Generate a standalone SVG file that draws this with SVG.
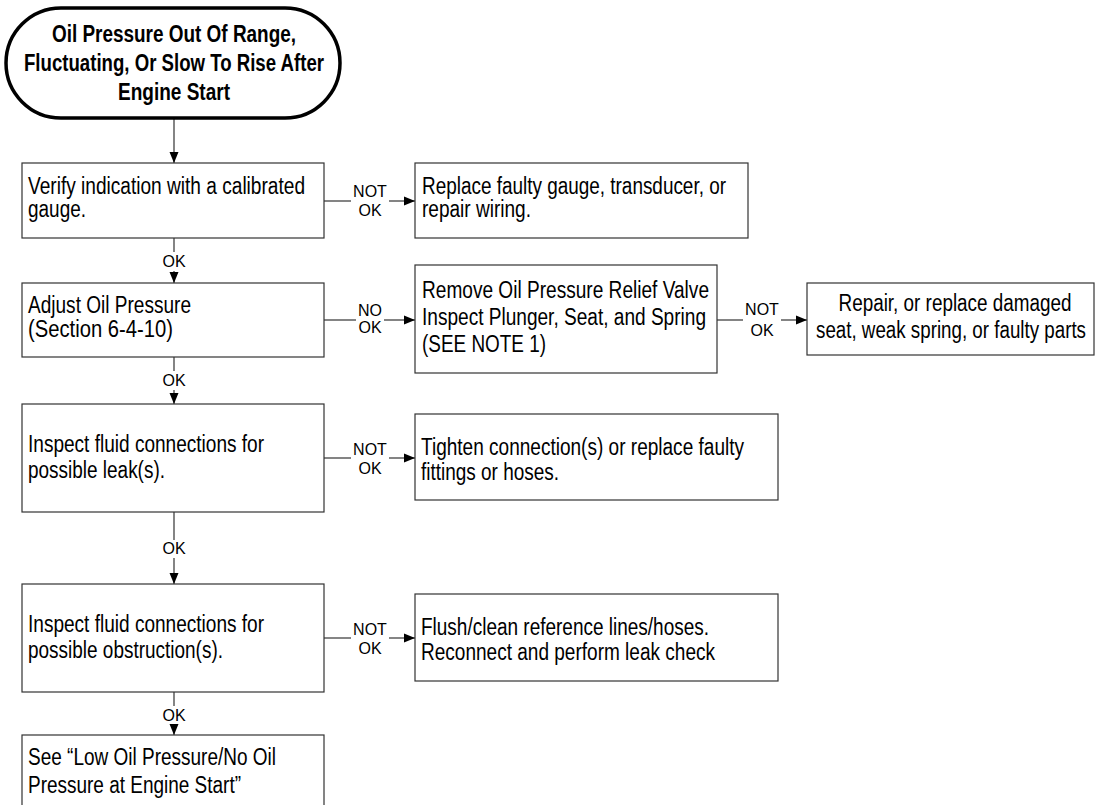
<svg xmlns="http://www.w3.org/2000/svg" width="1096" height="805" viewBox="0 0 1096 805">
<style>
.box{fill:#fff;stroke:#333;stroke-width:1.2}
.term{fill:#fff;stroke:#000;stroke-width:3.5}
.t{font-family:"Liberation Sans Narrow","Arial Narrow","Liberation Sans",Arial,sans-serif;font-size:23.5px;fill:#000}
.title{font-family:"Liberation Sans Narrow","Arial Narrow","Liberation Sans",Arial,sans-serif;font-size:23.5px;font-weight:bold;fill:#000;text-anchor:middle}
.lbl{font-family:"Liberation Sans",Arial,sans-serif;font-size:16px;fill:#000;text-anchor:middle}
.c{stroke:#333;stroke-width:1.2;fill:none}
</style>
<defs>
<marker id="ah" markerUnits="userSpaceOnUse" markerWidth="11" markerHeight="10" refX="11" refY="5" orient="auto">
<path d="M0,0.5 L11,5 L0,9.5 z" fill="#000"/>
</marker>
</defs>
<rect width="1096" height="805" fill="#fff"/>

<g id="connectors">
<line class="c" x1="174" y1="119" x2="174" y2="163" marker-end="url(#ah)"/>
<line class="c" x1="324" y1="201" x2="351" y2="201"/>
<line class="c" x1="389" y1="201" x2="415" y2="201" marker-end="url(#ah)"/>
<text class="lbl" x="370" y="197">NOT</text><text class="lbl" x="370" y="216">OK</text>
<line class="c" x1="174" y1="238" x2="174" y2="252"/>
<line class="c" x1="174" y1="271" x2="174" y2="283" marker-end="url(#ah)"/>
<text class="lbl" x="174" y="267">OK</text>
<line class="c" x1="324" y1="320" x2="356" y2="320"/>
<line class="c" x1="384" y1="320" x2="415" y2="320" marker-end="url(#ah)"/>
<text class="lbl" x="370" y="316">NO</text><text class="lbl" x="370" y="333">OK</text>
<line class="c" x1="717" y1="320" x2="743" y2="320"/>
<line class="c" x1="781" y1="320" x2="807" y2="320" marker-end="url(#ah)"/>
<text class="lbl" x="762" y="315">NOT</text><text class="lbl" x="762" y="336">OK</text>
<line class="c" x1="174" y1="357" x2="174" y2="371"/>
<line class="c" x1="174" y1="390" x2="174" y2="404" marker-end="url(#ah)"/>
<text class="lbl" x="174" y="386">OK</text>
<line class="c" x1="324" y1="458" x2="351" y2="458"/>
<line class="c" x1="389" y1="458" x2="415" y2="458" marker-end="url(#ah)"/>
<text class="lbl" x="370" y="455">NOT</text><text class="lbl" x="370" y="474">OK</text>
<line class="c" x1="174" y1="512" x2="174" y2="540"/>
<line class="c" x1="174" y1="558" x2="174" y2="584" marker-end="url(#ah)"/>
<text class="lbl" x="174" y="554">OK</text>
<line class="c" x1="324" y1="638" x2="351" y2="638"/>
<line class="c" x1="389" y1="638" x2="415" y2="638" marker-end="url(#ah)"/>
<text class="lbl" x="370" y="635">NOT</text><text class="lbl" x="370" y="654">OK</text>
<line class="c" x1="174" y1="692" x2="174" y2="706"/>
<line class="c" x1="174" y1="724" x2="174" y2="735" marker-end="url(#ah)"/>
<text class="lbl" x="174" y="721">OK</text>
</g>

<g id="start">
<rect class="term" x="6" y="8" width="334" height="110" rx="55" ry="55"/>
<text class="title" x="174" y="42" textLength="244" lengthAdjust="spacingAndGlyphs">Oil Pressure Out Of Range,</text>
<text class="title" x="174" y="71" textLength="300" lengthAdjust="spacingAndGlyphs">Fluctuating, Or Slow To Rise After</text>
<text class="title" x="174" y="100" textLength="112" lengthAdjust="spacingAndGlyphs">Engine Start</text>
</g>

<g id="verify">
<rect class="box" x="22" y="163" width="302" height="75"/>
<text class="t" x="28" y="194" textLength="277" lengthAdjust="spacingAndGlyphs">Verify indication with a calibrated</text>
<text class="t" x="28" y="217" textLength="58" lengthAdjust="spacingAndGlyphs">gauge.</text>
</g>

<g id="replace-gauge">
<rect class="box" x="415" y="163" width="333" height="75"/>
<text class="t" x="422" y="194" textLength="304" lengthAdjust="spacingAndGlyphs">Replace faulty gauge, transducer, or</text>
<text class="t" x="422" y="217" textLength="109" lengthAdjust="spacingAndGlyphs">repair wiring.</text>
</g>

<g id="adjust">
<rect class="box" x="22" y="283" width="302" height="74"/>
<text class="t" x="28" y="313" textLength="163" lengthAdjust="spacingAndGlyphs">Adjust Oil Pressure</text>
<text class="t" x="28" y="337" textLength="145" lengthAdjust="spacingAndGlyphs">(Section 6-4-10)</text>
</g>

<g id="relief-valve">
<rect class="box" x="415" y="265" width="302" height="108"/>
<text class="t" x="422" y="298" textLength="287" lengthAdjust="spacingAndGlyphs">Remove Oil Pressure Relief Valve</text>
<text class="t" x="422" y="325" textLength="284" lengthAdjust="spacingAndGlyphs">Inspect Plunger, Seat, and Spring</text>
<text class="t" x="422" y="352" textLength="124" lengthAdjust="spacingAndGlyphs">(SEE NOTE 1)</text>
</g>

<g id="repair-parts">
<rect class="box" x="807" y="283" width="287" height="72"/>
<text class="t" x="955" y="311" text-anchor="middle" textLength="233" lengthAdjust="spacingAndGlyphs">Repair, or replace damaged</text>
<text class="t" x="951" y="338" text-anchor="middle" textLength="270" lengthAdjust="spacingAndGlyphs">seat, weak spring, or faulty parts</text>
</g>

<g id="leaks">
<rect class="box" x="22" y="404" width="302" height="108"/>
<text class="t" x="28" y="452" textLength="236" lengthAdjust="spacingAndGlyphs">Inspect fluid connections for</text>
<text class="t" x="28" y="478" textLength="137" lengthAdjust="spacingAndGlyphs">possible leak(s).</text>
</g>

<g id="tighten">
<rect class="box" x="415" y="414" width="363" height="86"/>
<text class="t" x="421" y="455" textLength="323" lengthAdjust="spacingAndGlyphs">Tighten connection(s) or replace faulty</text>
<text class="t" x="421" y="480" textLength="138" lengthAdjust="spacingAndGlyphs">fittings or hoses.</text>
</g>

<g id="obstruction">
<rect class="box" x="22" y="584" width="302" height="108"/>
<text class="t" x="28" y="632" textLength="236" lengthAdjust="spacingAndGlyphs">Inspect fluid connections for</text>
<text class="t" x="28" y="658" textLength="195" lengthAdjust="spacingAndGlyphs">possible obstruction(s).</text>
</g>

<g id="flush">
<rect class="box" x="415" y="594" width="363" height="87"/>
<text class="t" x="421" y="635" textLength="288" lengthAdjust="spacingAndGlyphs">Flush/clean reference lines/hoses.</text>
<text class="t" x="421" y="660" textLength="294" lengthAdjust="spacingAndGlyphs">Reconnect and perform leak check</text>
</g>

<g id="low-pressure">
<rect class="box" x="22" y="735" width="302" height="80"/>
<text class="t" x="28" y="765" textLength="248" lengthAdjust="spacingAndGlyphs">See “Low Oil Pressure/No Oil</text>
<text class="t" x="28" y="793" textLength="213" lengthAdjust="spacingAndGlyphs">Pressure at Engine Start”</text>
</g>
</svg>
